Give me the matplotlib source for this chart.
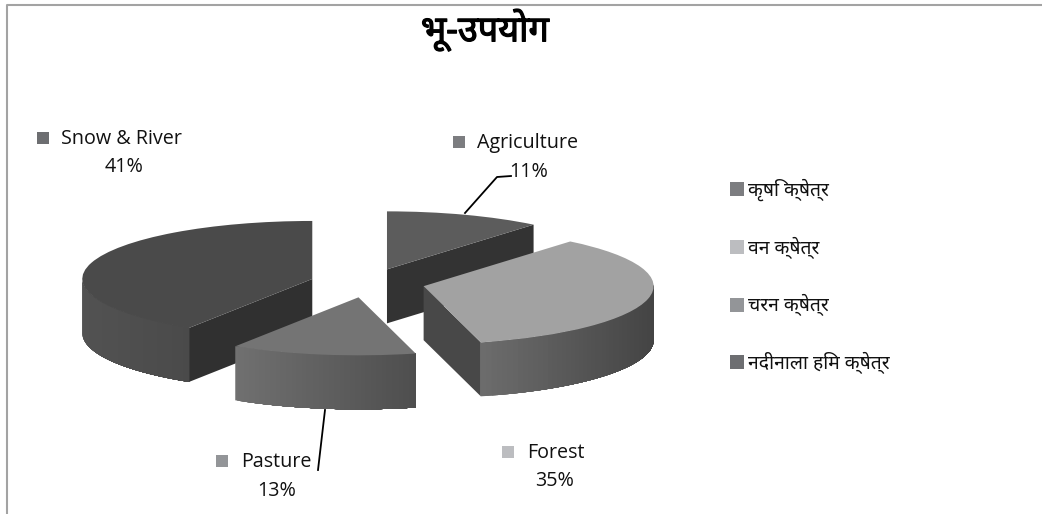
import numpy as np
import matplotlib
matplotlib.use("Agg")
import matplotlib.pyplot as plt
import matplotlib.patheffects as pe
from matplotlib.patches import Rectangle, Patch

plt.rcParams['font.family'] = ['Noto Sans', 'Lato', 'DejaVu Sans']

W, H = 1042, 514

# ---- data ----
categories = ["Agriculture", "Forest", "Pasture", "Snow & River"]
values = [11, 35, 13, 41]
legend_labels = ["कृषि क्षेत्र", "वन क्षेत्र", "चरन क्षेत्र", "नदीनाला हिम क्षेत्र"]
title = "भू-उपयोग"

# ---- styles ----
top_colors = ["#5c5c5c", "#a2a2a2", "#747474", "#4a4a4a"]
wall_colors = ["#333333", "#484848", "#505050", "#303030"]
rim_left = ["#555555", "#6c6c6c", "#707070", "#525252"]
rim_right = ["#444444", "#444444", "#4e4e4e", "#4a4a4a"]
swatch_colors = ["#7c7d80", "#bcbdc0", "#939598", "#6d6e71"]
z_order = [1, 3, 4, 2]
explode = 0.25
cx, cy, rx, ry, depth_px = 367.5, 283.0, 230.0, 58.0, 54.0
depth = depth_px / ry

fig = plt.figure(figsize=(W / 100, H / 100), dpi=100, facecolor="white")
ax = fig.add_axes([0, 0, 1, 1], facecolor="none")

wedges, _ = ax.pie(values, explode=[explode] * len(values), startangle=90,
                   counterclock=False, radius=1, colors=top_colors, frame=True,
                   wedgeprops=dict(linewidth=0))
ax.set_aspect("auto")
ax.set_xlim(-cx / rx, (W - cx) / rx)
ax.set_ylim((cy - H) / ry, cy / ry)
ax.axis("off")


def hex2rgb(c):
    return np.array(matplotlib.colors.to_rgb(c))


edges = np.concatenate([[0], np.cumsum(values)]) / np.sum(values) * 360.0
for i, w in enumerate(wedges):
    a0, a1 = np.radians(edges[i]), np.radians(edges[i + 1])
    mid = (a0 + a1) / 2
    ax0 = explode * np.sin(mid)
    ay0 = explode * np.cos(mid)
    z = z_order[i]
    w.set_zorder(z + 0.5)
    # radial walls: only those that face the viewer
    for ang, visible in ((a0, np.sin(a0) < -1e-6), (a1, np.sin(a1) > 1e-6)):
        if visible:
            ex, ey = ax0 + np.sin(ang), ay0 + np.cos(ang)
            ax.fill([ax0, ex, ex, ax0], [ay0, ey, ey - depth, ay0 - depth],
                    color=wall_colors[i], lw=0, zorder=z)
    # outer rim, shaded across its width; strips overlap to hide seams
    t = np.linspace(a0, a1, 90)
    t = t[np.cos(t) < 0.02]
    if len(t) > 2:
        xs = ax0 + np.sin(t)
        ys = ay0 + np.cos(t)
        lo, hi = xs.min(), xs.max()
        order = np.argsort(xs)
        xs, ys = xs[order], ys[order]
        for k in range(len(t) - 1):
            f = (xs[k] - lo) / (hi - lo)
            col = hex2rgb(rim_left[i]) * (1 - f) + hex2rgb(rim_right[i]) * f
            ax.fill(np.r_[xs[k:], xs[k:][::-1]],
                    np.r_[ys[k:], ys[k:][::-1] - depth],
                    color=col, lw=0, zorder=z + 0.2)

# ---- overlay in pixel coordinates ----
ov = fig.add_axes([0, 0, 1, 1], facecolor="none", zorder=5)
ov.set_xlim(0, W)
ov.set_ylim(H, 0)
ov.axis("off")

# frame
ov.plot([7, 7, W], [H, 5, 5], color="#a3a3a3", lw=1.5, solid_capstyle="butt")

ov.text(485, 30, title, ha="center", va="center", fontsize=26, fontweight="bold", color="black",
        path_effects=[pe.withStroke(linewidth=0.9, foreground="black")])

# data labels
label_pos = {
    "Agriculture": (477, 143, 459, 529, 172),
    "Forest": (527, 453, 508, 555, 481),
    "Pasture": (241, 462, 222, 277, 491),
    "Snow & River": (61, 139, 43, 124, 167),
}
for i, name in enumerate(categories):
    tx, ty, sx, px, py = label_pos[name]
    ov.text(tx, ty, name, ha="left", va="center", fontsize=14.2, color="#111111", family="Open Sans")
    ov.text(px, py, f"{values[i]}%", ha="center", va="center", fontsize=14.2, color="#111111", family="Open Sans")
    ov.add_patch(Rectangle((sx - 6, ty - 7), 12, 12, color=swatch_colors[i], lw=0))

# leader lines
ov.plot([511, 497, 465], [176, 177, 213], color="black", lw=1.3)
ov.plot([325, 318], [410, 470], color="black", lw=1.3)

# legend
handles = [Patch(color=c, lw=0) for c in swatch_colors]
ov.legend(handles, legend_labels, loc="upper left", bbox_to_anchor=(730, 179),
          bbox_transform=ov.transData, frameon=False, fontsize=13.9,
          handlelength=0.72, handleheight=0.72, handletextpad=0.2,
          labelspacing=1.84, borderpad=0, borderaxespad=0, labelcolor="#111111")

fig.savefig("out.png", dpi=100, facecolor="white")
